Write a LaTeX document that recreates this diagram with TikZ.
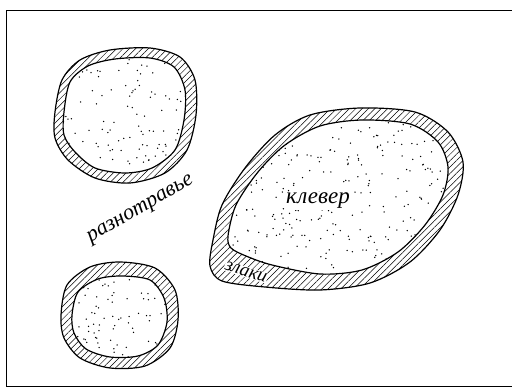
\documentclass[tikz,border=0pt]{standalone}
\usepackage{fontspec}
\newfontfamily\handfont{Liberation Serif}
\usetikzlibrary{patterns.meta}

\begin{document}
\begin{tikzpicture}[
  x=1pt, y=-1pt,
  rim/.style={draw=black, line width=1.2pt},
  hatch/.style={rim, pattern={Lines[angle=45, distance=4.5pt, line width=0.5pt]}},
  lbl/.style={text=black, inner sep=1pt}
]
  \useasboundingbox (0,0) rectangle (512,388);
  \pgfmathsetseed{11}

  % Frame
  \draw[line width=0.8pt] (512,10) -| (6,386) -- (512,386);

  % ==================== TOP-LEFT PATCH ====================
  \draw[hatch] plot[smooth cycle] coordinates {(55,112) (62,80) (80,60) (110,50) (150,48) (180,57) (195,80) (196,115) (187,150) (165,173) (130,183) (95,178) (68,160) (55,138)};
  \begin{scope}
    \clip plot[smooth cycle] coordinates {(64,112) (70,82) (88,66) (115,59) (150,58) (174,67) (185,90) (184,120) (175,150) (152,168) (125,173) (95,168) (75,152) (64,135)};
    \fill[white] (50,45) rectangle (200,185);
    \foreach \k in {1,...,115} \fill ({125+62*rand},{115+58*rand}) circle (0.75);
  \end{scope}
  \draw[rim] plot[smooth cycle] coordinates {(64,112) (70,82) (88,66) (115,59) (150,58) (174,67) (185,90) (184,120) (175,150) (152,168) (125,173) (95,168) (75,152) (64,135)};

  % ==================== BOTTOM-LEFT PATCH ====================
  \draw[hatch] plot[smooth cycle] coordinates {(61,315) (67,285) (90,267) (120,262) (155,268) (175,290) (178,320) (170,348) (145,366) (110,368) (80,358) (64,338)};
  \begin{scope}
    \clip plot[smooth cycle] coordinates {(72,315) (78,292) (98,279) (122,276) (150,280) (164,298) (167,322) (158,345) (138,356) (110,357) (86,349) (74,333)};
    \fill[white] (60,260) rectangle (180,370);
    \foreach \k in {1,...,80} \fill ({120+48*rand},{317+42*rand}) circle (0.75);
  \end{scope}
  \draw[rim] plot[smooth cycle] coordinates {(72,315) (78,292) (98,279) (122,276) (150,280) (164,298) (167,322) (158,345) (138,356) (110,357) (86,349) (74,333)};

  % ==================== CLOVER FIELD ====================
  \fill[pattern={Lines[angle=45, distance=4.5pt, line width=0.5pt]}] plot[smooth cycle] coordinates {(213,240) (222,205) (245,168) (275,135) (310,115) (360,108) (415,112) (448,132) (463,162) (458,195) (440,230) (410,262) (370,283) (320,290) (265,287) (222,281) (210,266)};
  \node[lbl, fill=white, inner sep=0.5pt, font=\handfont\itshape\fontsize{19}{19}\selectfont, rotate=-18] (grass) at (246,272) {злаки};
  \draw[rim] plot[smooth cycle] coordinates {(213,240) (222,205) (245,168) (275,135) (310,115) (360,108) (415,112) (448,132) (463,162) (458,195) (440,230) (410,262) (370,283) (320,290) (265,287) (222,281) (210,266)};
  \begin{scope}
    \clip plot[smooth cycle] coordinates {(228,236) (236,205) (258,172) (285,145) (320,126) (362,120) (410,124) (438,142) (448,167) (443,195) (425,225) (398,252) (362,270) (320,274) (272,265) (246,256) (231,248)};
    \fill[white] (210,105) rectangle (465,292);
    \foreach \k in {1,...,300} \fill ({338+112*rand},{198+80*rand}) circle (0.75);
  \end{scope}
  \draw[rim] plot[smooth cycle] coordinates {(228,236) (236,205) (258,172) (285,145) (320,126) (362,120) (410,124) (438,142) (448,167) (443,195) (425,225) (398,252) (362,270) (320,274) (272,265) (246,256) (231,248)};

  % Labels
  \node[lbl, font=\handfont\itshape\fontsize{22}{22}\selectfont, rotate=30] (forbs) at (141,210) {разнотравье};
  \node[lbl, fill=white, font=\handfont\itshape\fontsize{23}{23}\selectfont] (clover) at (318,201) {клевер};

\end{tikzpicture}
\end{document}
